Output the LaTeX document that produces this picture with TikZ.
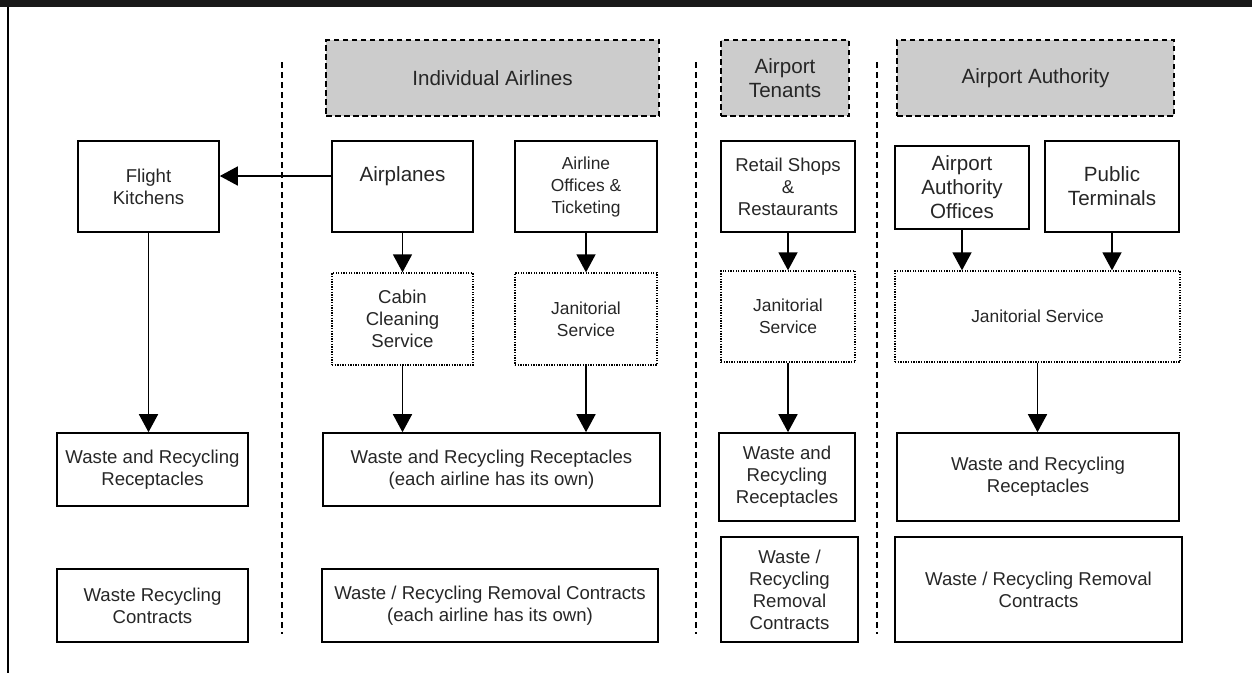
\documentclass[tikz,border=0pt]{standalone}
\usepackage{fontspec}
\setmainfont{Liberation Sans}
\usetikzlibrary{arrows.meta}
\begin{document}
\begin{tikzpicture}[x=1pt,y=-1pt,
  every node/.style={font=\fontsize{18.6}{22}\selectfont, align=center, inner sep=0pt, text=black!85},
  big/.style={font=\fontsize{20.6}{24}\selectfont},
  small/.style={font=\fontsize{17.4}{22}\selectfont},
  box/.style 2 args={draw, line width=1.6pt, minimum width=#1, minimum height=#2},
  hdr/.style 2 args={draw, fill=black!20, line width=1.6pt, dash pattern=on 5.5pt off 3.5pt, minimum width=#1, minimum height=#2, big},
  svc/.style 2 args={draw, line width=1.3pt, dash pattern=on 1.3pt off 1.3pt, minimum width=#1, minimum height=#2},
  arr/.style={line width=1.6pt, -{Triangle[length=18pt,width=19pt]}},
  sep/.style={line width=1.3pt, dash pattern=on 6pt off 4pt}]
\useasboundingbox (0,0) rectangle (1252,673);
\fill[black!90] (0,0) rectangle (1252,7);
\draw[line width=1.5pt] (8,7) -- (8,673);

% separators
\coordinate (s1a) at (282,62); \coordinate (s1b) at (282,634);
\coordinate (s2a) at (696,62); \coordinate (s2b) at (696,634);
\coordinate (s3a) at (877,62); \coordinate (s3b) at (877,634);
\draw[sep] (s1a) -- (s1b);
\draw[sep] (s2a) -- (s2b);
\draw[sep] (s3a) -- (s3b);

% headers
\node[hdr={333pt}{76pt}] (hIA) at (492.5,78) {Individual Airlines};
\node[hdr={128pt}{76pt}] (hAT) at (785,78) {Airport\\Tenants};
\node[hdr={277pt}{76pt}] (hAA) at (1035.5,78) {Airport Authority};

% sources
\node[box={141pt}{91pt}] (fk) at (148.5,186.5) {Flight\\Kitchens};
\node[box={141pt}{91pt}, big] (air) at (402.5,186.5) {Airplanes\\\mbox{}};
\node[box={142pt}{91pt}, small] (off) at (586,186.5) {Airline\\Offices \&\\Ticketing};
\node[box={134pt}{91pt}] (ret) at (788,186.5) {Retail Shops\\\&\\Restaurants};
\node[box={134pt}{83pt}, big] (aao) at (962,187.5) {Airport\\Authority\\Offices};
\node[box={134pt}{91pt}, big] (pt) at (1112,186.5) {Public\\Terminals};

% services
\node[svc={141pt}{92pt}] (cab) at (402.5,319) {Cabin\\Cleaning\\Service};
\node[svc={142pt}{92pt}, small] (ajan) at (586,319) {Janitorial\\Service};
\node[svc={134pt}{91pt}, small] (tjan) at (788,316.5) {Janitorial\\Service};
\node[svc={285pt}{91pt}, small] (pjan) at (1037.5,316.5) {Janitorial Service};

% receptacles
\node[box={191pt}{73pt}] (fkrec) at (152.5,469.5) {Waste and Recycling\\Receptacles};
\node[box={337pt}{73pt}] (arec) at (491.5,469.5) {Waste and Recycling Receptacles\\(each airline has its own)};
\node[box={136pt}{88pt}] (trec) at (787,477) {Waste and\\Recycling\\Receptacles};
\node[box={282pt}{88pt}] (prec) at (1038,477) {Waste and Recycling\\Receptacles};

% contracts
\node[box={191pt}{73pt}] (fkcon) at (152.5,605.5) {Waste Recycling\\Contracts};
\node[box={336pt}{73pt}] (acon) at (490,605.5) {Waste / Recycling Removal Contracts\\(each airline has its own)};
\node[box={137pt}{105pt}] (tcon) at (789.5,589.5) {Waste /\\Recycling\\Removal\\Contracts};
\node[box={287pt}{105pt}] (pcon) at (1038.5,589.5) {Waste / Recycling Removal\\Contracts};

% arrows
\draw[arr] ([yshift=10.5pt]air.west) -- ([yshift=10.5pt]air.west -| fk.east);
\draw[arr] (fk.south) -- (fk.south |- fkrec.north);
\draw[arr] (air.south) -- (cab.north);
\draw[arr] (off.south) -- (ajan.north);
\draw[arr] (ret.south) -- (ret.south |- tjan.north);
\draw[arr] (aao.south) -- (aao.south |- pjan.north);
\draw[arr] (pt.south) -- (pt.south |- pjan.north);
\draw[arr] (cab.south) -- (cab.south |- arec.north);
\draw[arr] (ajan.south) -- (ajan.south |- arec.north);
\draw[arr] (tjan.south) -- (tjan.south |- trec.north);
\draw[arr] (pjan.south) -- (pjan.south |- prec.north);
\end{tikzpicture}
\end{document}
